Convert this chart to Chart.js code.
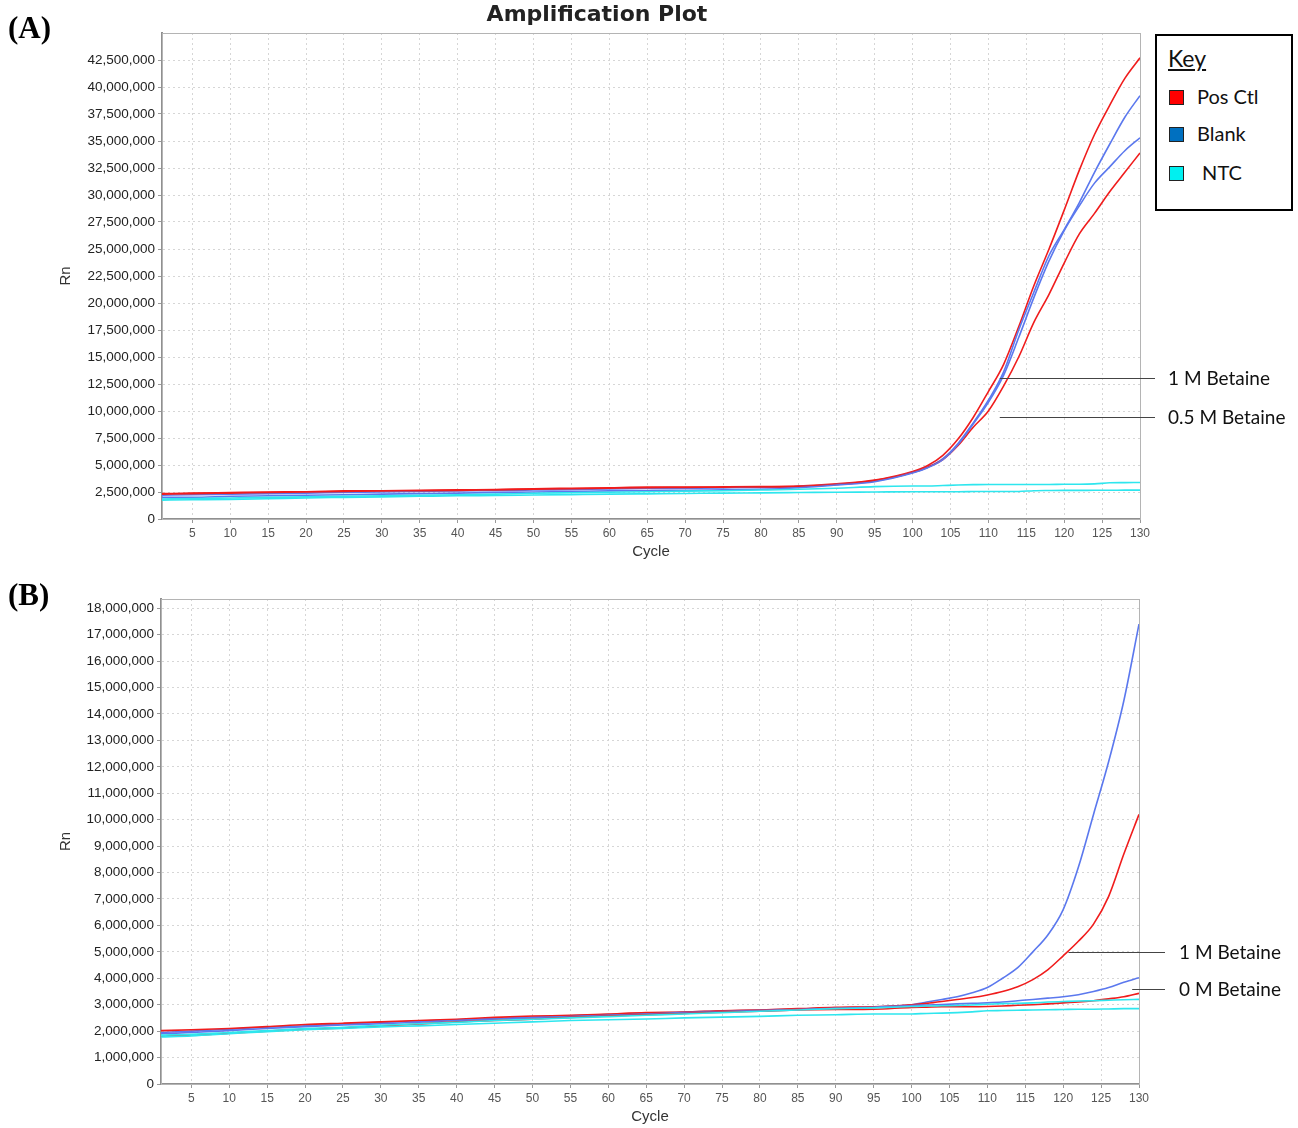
<!DOCTYPE html>
<html>
<head>
<meta charset="utf-8">
<script src="https://cdn.jsdelivr.net/npm/chart.js@4.4.1/dist/chart.umd.min.js"></script>
<style>
  body { margin: 0; background: #fff; width: 1298px; height: 1128px; position: relative; overflow: hidden; }
  .box { position: absolute; left: 0; width: 1298px; }
  #boxA { top: 0; height: 566px; }
  #boxB { top: 566px; height: 562px; }
  .panel { position: absolute; left: 8px; font: bold 31px "Liberation Serif", serif; color: #000; }
  .key { position: absolute; left: 1155px; top: 34px; width: 134px; height: 173px; border: 2px solid #000; background: #fff;
         font-family: Lato, "Open Sans", sans-serif; color: #111; }
  .key .ttl { position: absolute; left: 11px; top: 8px; font-size: 23px; text-decoration: underline; }
  .key .row { position: absolute; left: 12px; font-size: 20px; line-height: 24px; }
  .key .sw { display: inline-block; width: 13px; height: 13px; border: 1.5px solid #222; vertical-align: -1px; margin-right: 13px; }
</style>
</head>
<body>
<div class="box" id="boxA"><canvas id="chartA"></canvas></div>
<div class="box" id="boxB"><canvas id="chartB"></canvas></div>
<div class="panel" style="top:10px">(A)</div>
<div class="panel" style="top:577px">(B)</div>
<div class="key" id="key"><div class="ttl">Key</div></div>

<script>
// ciclos onde li os valores (mais denso na subida)
const ciclos = [1,5,10,15,20,25,30,35,40,45,50,55,60,65,70,75,80,85,90,95,100,102,104,106,108,110,112,114,116,118,120,122,124,126,128,130];

// valores em milhoes de Rn - grafico A
const aPos1   = [2.35,2.4,2.45,2.5,2.52,2.6,2.62,2.65,2.7,2.72,2.8,2.85,2.9,2.95,2.95,2.97,3.0,3.05,3.25,3.6,4.4,4.95,5.9,7.4,9.4,11.8,14.3,17.8,21.6,25.0,28.6,32.3,35.6,38.3,40.8,42.7];
const aPos2   = [2.3,2.35,2.4,2.45,2.5,2.55,2.6,2.62,2.65,2.7,2.75,2.8,2.85,2.9,2.92,2.95,2.97,3.02,3.2,3.55,4.3,4.8,5.5,6.8,8.5,10.0,12.3,15.0,18.2,20.8,23.7,26.4,28.3,30.3,32.1,33.9];
const aBlank1 = [2.2,2.25,2.3,2.35,2.4,2.45,2.5,2.55,2.6,2.62,2.68,2.72,2.78,2.82,2.85,2.88,2.92,3.0,3.2,3.5,4.3,4.8,5.6,7.0,8.9,11.0,13.6,17.5,21.0,24.4,26.8,29.3,32.1,34.7,37.2,39.2];
const aBlank2 = [2.0,2.0,2.1,2.15,2.2,2.25,2.3,2.35,2.4,2.45,2.5,2.55,2.6,2.62,2.65,2.7,2.75,2.9,3.15,3.45,4.25,4.75,5.5,6.9,8.8,10.8,13.3,16.8,20.5,23.9,26.7,29.0,31.1,32.6,34.1,35.3];
const aNtc1   = [1.85,1.9,1.95,2.0,2.05,2.1,2.15,2.2,2.25,2.3,2.38,2.43,2.48,2.52,2.58,2.62,2.68,2.75,2.85,3.0,3.05,3.05,3.1,3.15,3.18,3.2,3.2,3.2,3.2,3.2,3.22,3.22,3.25,3.35,3.37,3.38];
const aNtc2   = [1.75,1.78,1.82,1.88,1.95,2.0,2.05,2.1,2.15,2.18,2.22,2.26,2.3,2.33,2.36,2.4,2.42,2.45,2.48,2.5,2.52,2.52,2.53,2.53,2.54,2.55,2.55,2.55,2.62,2.64,2.65,2.65,2.66,2.66,2.67,2.67];

// grafico B
const bPos1   = [2.02,2.05,2.1,2.17,2.25,2.3,2.35,2.4,2.45,2.52,2.57,2.6,2.65,2.7,2.72,2.77,2.8,2.85,2.9,2.92,3.0,3.05,3.12,3.2,3.27,3.37,3.5,3.68,3.95,4.33,4.85,5.4,6.05,7.1,8.7,10.2];
const bPos2   = [1.82,1.85,1.92,2.0,2.07,2.12,2.2,2.27,2.35,2.4,2.45,2.52,2.57,2.62,2.67,2.72,2.75,2.8,2.82,2.83,2.9,2.91,2.92,2.92,2.92,2.93,2.95,2.98,3.0,3.03,3.07,3.1,3.15,3.22,3.3,3.43];
const bBlank1 = [1.95,2.0,2.07,2.15,2.2,2.27,2.33,2.38,2.43,2.48,2.53,2.58,2.63,2.67,2.72,2.76,2.8,2.84,2.88,2.92,3.0,3.1,3.2,3.3,3.45,3.65,4.0,4.4,5.0,5.65,6.6,8.2,10.2,12.2,14.5,17.4];
const bBlank2 = [1.9,1.95,2.02,2.1,2.17,2.23,2.28,2.34,2.4,2.45,2.5,2.55,2.6,2.65,2.7,2.74,2.78,2.82,2.86,2.9,2.97,2.99,3.01,3.03,3.05,3.07,3.1,3.15,3.2,3.25,3.3,3.38,3.5,3.65,3.85,4.02];
const bNtc1   = [1.85,1.88,1.95,2.02,2.1,2.15,2.22,2.28,2.33,2.4,2.45,2.5,2.55,2.6,2.65,2.7,2.75,2.8,2.85,2.88,2.93,2.95,2.96,2.97,2.99,3.02,3.04,3.05,3.07,3.1,3.12,3.14,3.15,3.17,3.19,3.2];
const bNtc2   = [1.78,1.82,1.9,1.98,2.05,2.1,2.16,2.2,2.25,2.3,2.35,2.4,2.43,2.46,2.5,2.53,2.56,2.6,2.62,2.65,2.65,2.67,2.68,2.7,2.73,2.77,2.78,2.79,2.8,2.81,2.82,2.83,2.83,2.84,2.85,2.85];

// marcas dos eixos
const ticksX  = [5,10,15,20,25,30,35,40,45,50,55,60,65,70,75,80,85,90,95,100,105,110,115,120,125,130];
const ticksYA = [0,2.5,5,7.5,10,12.5,15,17.5,20,22.5,25,27.5,30,32.5,35,37.5,40,42.5];
const ticksYB = [0,1,2,3,4,5,6,7,8,9,10,11,12,13,14,15,16,17,18];

const nomes = ['Pos Ctl', 'Blank', 'NTC'];
const coresLinha = ['#f01c1c', '#5b78ee', '#2ee6ee'];
const coresChave = ['#ff0000', '#0070c0', '#00f0f0'];

const titulo = 'Amplification Plot';
const notasA = [
  { texto: '1 M Betaine', ciclo: 111.5, rn: 13.1e6 },
  { texto: '0.5 M Betaine', ciclo: 111.5, rn: 9.45e6 }
];
const notasB = [
  { texto: '1 M Betaine', ciclo: 120.7, rn: 5.0e6 },
  { texto: '0 M Betaine', ciclo: 129.1, rn: 3.6e6 }
];

// legenda "Key"
const key = document.getElementById('key');
nomes.forEach((n, i) => {
  const d = document.createElement('div');
  d.className = 'row';
  d.style.top = [48, 85, 124][i] + 'px';
  d.innerHTML = `<span class="sw" style="background:${coresChave[i]}"></span>` + (i === 2 ? '&nbsp;' : '') + n;
  key.appendChild(d);
});

function serie(valores, cor) {
  return {
    data: valores.map((v, i) => ({ x: ciclos[i], y: v * 1e6 })),
    borderColor: cor,
    borderWidth: 1.6,
    pointRadius: 0,
    fill: false,
    cubicInterpolationMode: 'monotone'
  };
}

const moldura = {
  id: 'moldura',
  beforeDatasetsDraw(chart) {
    const a = chart.chartArea, c = chart.ctx;
    c.save();
    c.strokeStyle = '#b4b4b4';
    c.lineWidth = 1;
    c.strokeRect(a.left + 0.5, a.top + 0.5, a.right - a.left, a.bottom - a.top);
    c.restore();
  },
  afterDraw(chart) {
    const o = chart.options.plugins.moldura || {};
    const c = chart.ctx, a = chart.chartArea;
    const sx = chart.scales.x, sy = chart.scales.y;
    c.save();
    if (o.titulo) {
      c.font = 'bold 22px "DejaVu Sans", sans-serif';
      c.fillStyle = '#222';
      c.textAlign = 'center';
      c.textBaseline = 'middle';
      c.fillText(o.titulo, 597, 15);
    }
    (o.notas || []).forEach(n => {
      const x0 = sx.getPixelForValue(n.ciclo);
      const y0 = Math.round(sy.getPixelForValue(n.rn)) + 0.5;
      c.strokeStyle = '#444';
      c.lineWidth = 1;
      c.beginPath();
      c.moveTo(x0, y0);
      c.lineTo(a.right + o.fimLinha, y0);
      c.stroke();
      c.font = '19px Lato, "Open Sans", sans-serif';
      c.fillStyle = '#111';
      c.textAlign = 'left';
      c.textBaseline = 'middle';
      c.fillText(n.texto, a.right + o.xTexto, y0);
    });
    c.restore();
  }
};

function opcoes(cfg) {
  return {
    responsive: true,
    maintainAspectRatio: false,
    animation: false,
    layout: { padding: { top: 33, left: 0, right: cfg.direita, bottom: 0 } },
    plugins: {
      legend: { display: false },
      tooltip: { enabled: false },
      moldura: { titulo: cfg.titulo, notas: cfg.notas, fimLinha: cfg.fimLinha, xTexto: cfg.xTexto }
    },
    scales: {
      x: {
        type: 'linear',
        min: 1,
        max: 130,
        ticks: { autoSkip: false, color: '#555', font: { family: 'Liberation Sans', size: 12 }, padding: 3, maxRotation: 0 },
        afterBuildTicks: s => { s.ticks = ticksX.map(v => ({ value: v })); },
        afterFit: s => { s.height = cfg.alturaX; },
        grid: { color: '#d6d6d6', tickLength: 4, tickColor: '#999' },
        border: { color: '#909090', width: 2, dash: [2, 3] },
        title: { display: true, text: 'Cycle', color: '#333', font: { family: 'Liberation Sans', size: 15 }, padding: { top: 0, bottom: cfg.padCycle } }
      },
      y: {
        min: 0,
        max: cfg.maxY,
        ticks: {
          autoSkip: false,
          color: '#222',
          font: { family: 'Liberation Sans', size: 13.5 },
          padding: 3,
          callback: v => v.toLocaleString('en-US')
        },
        afterBuildTicks: s => { s.ticks = cfg.ticksY.map(v => ({ value: v * 1e6 })); },
        afterFit: s => { s.width = cfg.larguraY; },
        grid: { color: '#d6d6d6', tickLength: 4, tickColor: '#999' },
        border: { color: '#909090', width: 2, dash: [2, 3] },
        title: { display: true, text: 'Rn', color: '#333', font: { family: 'Liberation Sans', size: 15 }, padding: { top: 57, bottom: 0 } }
      }
    }
  };
}

new Chart(document.getElementById('chartA'), {
  type: 'line',
  data: {
    datasets: [
      serie(aNtc1, coresLinha[2]),
      serie(aNtc2, coresLinha[2]),
      serie(aBlank2, coresLinha[1]),
      serie(aPos2, coresLinha[0]),
      serie(aBlank1, coresLinha[1]),
      serie(aPos1, coresLinha[0])
    ]
  },
  options: opcoes({ direita: 158, alturaX: 47, padCycle: 5, larguraY: 162, maxY: 45e6, ticksY: ticksYA,
                    titulo: titulo, notas: notasA, fimLinha: 15, xTexto: 28 }),
  plugins: [moldura]
});

new Chart(document.getElementById('chartB'), {
  type: 'line',
  data: {
    datasets: [
      serie(bNtc2, coresLinha[2]),
      serie(bNtc1, coresLinha[2]),
      serie(bPos2, coresLinha[0]),
      serie(bBlank2, coresLinha[1]),
      serie(bPos1, coresLinha[0]),
      serie(bBlank1, coresLinha[1])
    ]
  },
  options: opcoes({ direita: 159, alturaX: 44, padCycle: 2, larguraY: 161, maxY: 18.35e6, ticksY: ticksYB,
                    titulo: null, notas: notasB, fimLinha: 26, xTexto: 40 }),
  plugins: [moldura]
});
</script>
</body>
</html>
